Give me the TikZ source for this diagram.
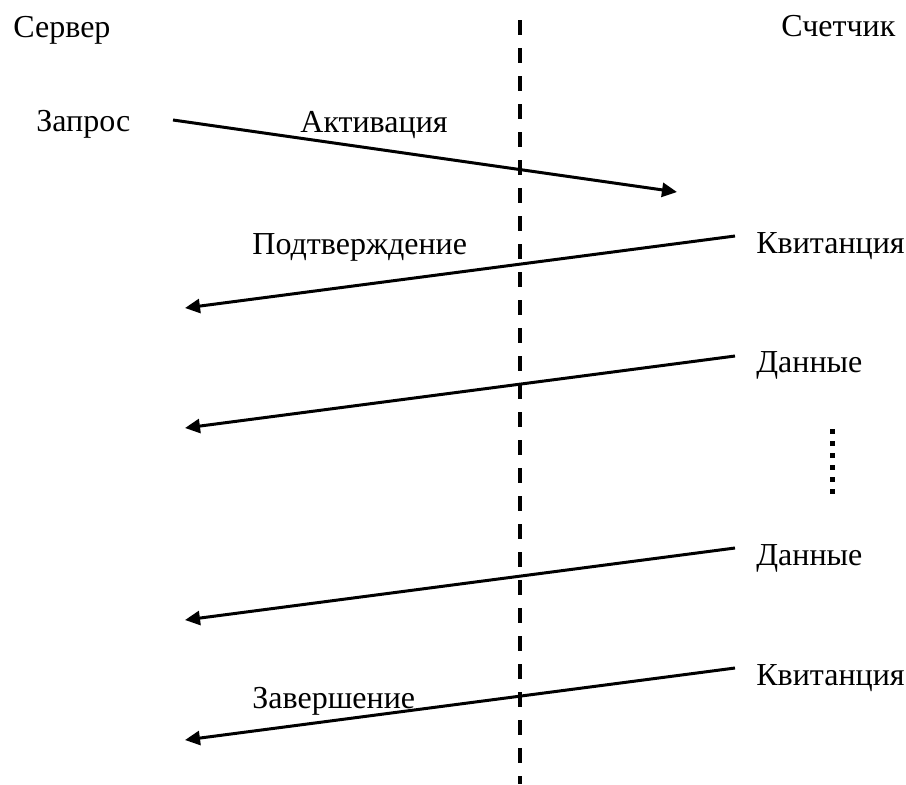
\documentclass[tikz,border=0pt]{standalone}
\usepackage{fontspec}
\setmainfont{Liberation Serif}
\usetikzlibrary{arrows.meta}
\begin{document}
\begin{tikzpicture}[x=0.5pt,y=-0.5pt,
  lbl/.style={anchor=base west,inner sep=0pt,font=\fontsize{16}{19}\selectfont},
  msg/.style={line width=1.5pt,-{Triangle[length=7.5pt,width=7pt]}},
  divider/.style={line width=2pt,dash pattern=on 7.5pt off 6.5pt}]
\useasboundingbox (0,0) rectangle (906,784);
% divider
\coordinate (dtop) at (520,20);
\coordinate (dbot) at (520,784);
\draw[divider] (dtop) -- (dbot);
% labels
\node[lbl] (server) at (13,37) {Сервер};
\node[lbl] (meter) at (781,36) {Счетчик};
\node[lbl] (req) at (36,131) {Запрос};
\node[lbl] (act) at (300,132) {Активация};
\node[lbl] (conf) at (252,254) {Подтверждение};
\node[lbl] (kv1) at (756,253) {Квитанция};
\node[lbl] (d1) at (756,372) {Данные};
\node[lbl] (d2) at (756,565) {Данные};
\node[lbl] (kv2) at (756,685) {Квитанция};
\node[lbl] (fin) at (252,708) {Завершение};
% message ends
\coordinate (a1s) at (173,120); \coordinate (a1e) at (677,192);
\coordinate (a2s) at (735,236); \coordinate (a2e) at (185,308);
\coordinate (a3s) at (735,356); \coordinate (a3e) at (185,428);
\coordinate (a4s) at (735,548); \coordinate (a4e) at (185,620);
\coordinate (a5s) at (735,668); \coordinate (a5e) at (185,740);
\draw[msg] (a1s) -- (a1e);
\draw[msg] (a2s) -- (a2e);
\draw[msg] (a3s) -- (a3e);
\draw[msg] (a4s) -- (a4e);
\draw[msg] (a5s) -- (a5e);
% vertical dots
\foreach \i in {0,...,5}
  \fill (829.5,428.5+12*\i) rectangle (834.5,433.5+12*\i);
\end{tikzpicture}
\end{document}
